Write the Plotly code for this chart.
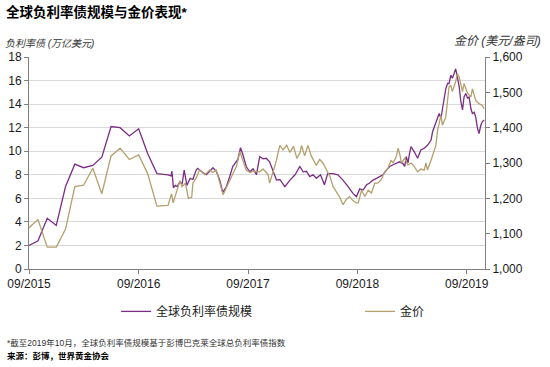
import plotly.graph_objects as go

# ---------------- data ----------------
# Global negative-yielding debt (USD trn)
debt_dates = [
    "2015-09-01", "2015-10-01", "2015-11-01", "2015-12-01", "2016-01-01", "2016-02-01",
    "2016-03-01", "2016-04-01", "2016-05-01", "2016-06-01", "2016-07-01", "2016-08-01",
    "2016-09-01", "2016-10-01", "2016-11-01", "2016-12-01",
    "2016-12-08", "2016-12-18", "2016-12-21", "2016-12-26", "2017-01-01", "2017-01-07",
    "2017-01-17", "2017-01-24", "2017-01-31", "2017-02-09", "2017-02-20", "2017-03-01",
    "2017-03-12", "2017-03-17", "2017-03-23", "2017-04-03", "2017-04-15", "2017-04-26",
    "2017-05-07", "2017-05-18", "2017-05-29", "2017-06-09", "2017-06-21", "2017-07-02",
    "2017-07-12", "2017-07-29", "2017-08-07", "2017-08-15", "2017-08-26", "2017-09-07",
    "2017-09-18", "2017-09-29", "2017-10-10", "2017-10-21", "2017-11-01", "2017-11-12",
    "2017-11-23", "2017-12-05", "2017-12-16", "2018-01-02", "2018-01-19", "2018-02-05",
    "2018-02-21", "2018-03-04", "2018-03-15", "2018-03-26", "2018-04-06", "2018-04-17",
    "2018-05-01", "2018-05-14", "2018-05-25", "2018-06-11", "2018-06-28", "2018-07-15",
    "2018-08-01", "2018-08-18", "2018-08-29", "2018-09-09", "2018-09-20", "2018-10-02",
    "2018-10-12", "2018-10-23", "2018-11-04", "2018-11-14", "2018-11-25", "2018-12-07",
    "2018-12-18", "2018-12-29", "2019-01-09", "2019-01-20", "2019-01-31", "2019-02-06",
    "2019-02-11", "2019-02-17", "2019-02-22", "2019-02-27", "2019-03-10", "2019-03-21",
    "2019-04-01", "2019-04-12", "2019-04-23", "2019-05-05", "2019-05-10", "2019-05-16",
    "2019-05-21", "2019-05-27", "2019-06-01", "2019-06-07", "2019-06-12", "2019-06-18",
    "2019-06-23", "2019-06-29", "2019-07-04", "2019-07-10", "2019-07-15", "2019-07-21",
    "2019-07-26", "2019-08-01", "2019-08-07", "2019-08-12", "2019-08-18", "2019-08-23",
    "2019-08-29", "2019-09-04", "2019-09-09", "2019-09-15", "2019-09-20", "2019-09-26",
    "2019-10-01", "2019-10-07", "2019-10-12", "2019-10-18", "2019-10-23", "2019-10-29",
]
debt_values = [
    2.0, 2.4, 4.3, 3.7, 7.0, 8.9,
    8.6, 8.8, 9.5, 12.1, 12.0, 11.3,
    11.9, 9.8, 8.1, 8.0,
    8.0, 7.9, 8.3, 6.9, 7.1, 7.0,
    7.4, 7.2, 8.4, 7.1, 7.7, 7.6,
    8.4, 8.55, 8.4, 8.2, 8.0, 8.3,
    8.6, 8.3, 7.6, 6.5, 7.0, 7.85,
    8.7, 9.3, 10.3, 9.7, 8.7, 8.25,
    8.5, 8.0, 9.55, 9.35, 9.4, 9.1,
    8.4, 7.55, 7.6, 7.0, 7.55, 8.0,
    8.7, 8.25, 8.3, 7.85, 8.0, 7.7,
    8.0, 7.15, 8.1, 8.1, 8.0, 7.55,
    7.0, 6.4, 6.15, 6.8, 6.7, 7.15,
    7.3, 7.55, 7.7, 7.85, 8.0, 8.4,
    8.7, 8.85, 8.95, 9.1, 8.95, 8.7,
    9.55, 9.0, 9.8, 10.4, 9.95, 9.4,
    10.1, 10.25, 10.5, 10.95, 11.65, 12.1,
    12.35, 12.9, 13.2, 12.8, 13.5, 14.3,
    15.3, 15.75, 15.75, 16.45, 16.2, 16.6,
    17.0, 16.3, 15.45, 14.3, 13.5, 14.6,
    14.9, 14.5, 14.6, 13.6, 13.2, 13.3,
    12.9, 11.95, 11.5, 12.2, 12.5, 12.65,
]

# Gold price (USD/oz)
gold_dates = [
    "2015-09-01", "2015-10-01", "2015-11-01", "2015-12-01", "2016-01-01", "2016-02-01",
    "2016-03-01", "2016-04-01", "2016-05-01", "2016-06-01", "2016-07-01", "2016-08-01",
    "2016-09-01", "2016-10-01", "2016-11-01", "2016-12-01",
    "2016-12-08", "2016-12-14", "2016-12-20", "2016-12-25", "2017-01-06", "2017-01-17",
    "2017-01-24", "2017-02-04", "2017-02-14", "2017-02-25", "2017-03-01", "2017-03-12",
    "2017-03-23", "2017-04-10", "2017-04-26", "2017-05-07", "2017-05-18", "2017-05-29",
    "2017-06-10", "2017-06-26", "2017-07-12", "2017-07-24", "2017-08-05", "2017-08-15",
    "2017-08-26", "2017-09-08", "2017-09-19", "2017-10-10", "2017-10-21", "2017-11-07",
    "2017-11-12", "2017-11-23", "2017-12-05", "2017-12-16", "2017-12-27", "2018-01-08",
    "2018-01-19", "2018-01-31", "2018-02-11", "2018-02-22", "2018-02-27", "2018-03-09",
    "2018-03-20", "2018-03-31", "2018-04-06", "2018-04-17", "2018-04-28", "2018-05-09",
    "2018-05-21", "2018-06-01", "2018-06-12", "2018-06-23", "2018-07-04", "2018-07-15",
    "2018-07-26", "2018-08-06", "2018-08-18", "2018-08-29", "2018-09-04", "2018-09-15",
    "2018-09-26", "2018-10-07", "2018-10-18", "2018-10-29", "2018-11-08", "2018-11-19",
    "2018-12-01", "2018-12-12", "2018-12-23", "2018-12-29", "2019-01-09", "2019-01-15",
    "2019-01-20", "2019-01-26", "2019-02-06", "2019-02-17", "2019-02-28", "2019-03-10",
    "2019-03-21", "2019-04-01", "2019-04-12", "2019-04-18", "2019-04-23", "2019-05-05",
    "2019-05-16", "2019-05-21", "2019-05-27", "2019-06-01", "2019-06-07", "2019-06-12",
    "2019-06-23", "2019-06-29", "2019-07-04", "2019-07-10", "2019-07-15", "2019-07-26",
    "2019-08-01", "2019-08-07", "2019-08-18", "2019-08-23", "2019-09-04", "2019-09-15",
    "2019-09-20", "2019-10-01", "2019-10-12", "2019-10-23", "2019-10-29",
]
gold_values = [
    1117, 1140, 1062, 1062, 1113, 1233,
    1237, 1285, 1213, 1320, 1342, 1310,
    1323, 1270, 1178, 1178,
    1180, 1197, 1213, 1187, 1217, 1250,
    1233, 1243, 1200, 1203, 1243, 1257,
    1280, 1267, 1280, 1273, 1280, 1247,
    1210, 1240, 1270, 1290, 1332, 1310,
    1280, 1273, 1277, 1275, 1283, 1267,
    1243, 1273, 1308, 1350, 1337, 1350,
    1330, 1347, 1313, 1330, 1350, 1320,
    1350, 1320, 1310, 1293, 1310, 1300,
    1280, 1263, 1233, 1218, 1203, 1182,
    1197, 1205, 1193, 1187, 1187, 1223,
    1205, 1223, 1215, 1243, 1243, 1252,
    1275, 1285, 1308, 1300, 1318, 1342,
    1327, 1300, 1313, 1295, 1300, 1290,
    1275, 1283, 1280, 1300, 1280, 1308,
    1337, 1350, 1393, 1412, 1435, 1407,
    1430, 1477, 1515, 1520, 1502, 1530,
    1553, 1543, 1502, 1525, 1497, 1487,
    1510, 1477, 1468, 1463, 1453,
]

tick_dates = ["2015-09-01", "2016-09-01", "2017-09-01", "2018-09-01", "2019-09-01"]
tick_labels = ["09/2015", "09/2016", "09/2017", "09/2018", "09/2019"]

# ---------------- figure ----------------
FONT = "Liberation Sans, Arial, Noto Sans CJK SC, sans-serif"
PURPLE = "#7B2D84"
GOLD = "#B3A06E"

fig = go.Figure()
fig.add_trace(go.Scatter(
    x=debt_dates, y=debt_values, mode="lines", name="全球负利率债规模",
    line=dict(color=PURPLE, width=1.3), yaxis="y", legend="legend",
))
fig.add_trace(go.Scatter(
    x=gold_dates, y=gold_values, mode="lines", name="金价",
    line=dict(color=GOLD, width=1.3), yaxis="y2", legend="legend2",
))

axis_common = dict(
    showline=True, linecolor="#808080", linewidth=1,
    ticks="outside", ticklen=4, tickcolor="#808080", automargin=False,
    tickfont=dict(size=12, color="#1a1a1a", family=FONT),
)

legend_common = dict(
    orientation="h", y=-0.2, yanchor="middle", xanchor="left",
    font=dict(size=12, family=FONT, color="#1a1a1a"),
    bgcolor="rgba(0,0,0,0)", borderwidth=0,
)

fig.update_layout(
    width=550, height=367,
    margin=dict(l=29, r=65, t=57, b=98, autoexpand=False),
    paper_bgcolor="white", plot_bgcolor="white",
    font=dict(family=FONT, color="#1a1a1a"),
    xaxis=dict(
        type="date", range=["2015-09-01", "2019-11-01"],
        tickvals=tick_dates, ticktext=tick_labels,
        showgrid=False, zeroline=False, **axis_common,
    ),
    yaxis=dict(
        range=[0, 18], dtick=2, showgrid=True, gridcolor="#d9d9d9", gridwidth=1,
        zeroline=False, **axis_common,
    ),
    yaxis2=dict(
        range=[1000, 1600], dtick=100, tickformat=",", overlaying="y", side="right",
        showgrid=False, zeroline=False, **axis_common,
    ),
    showlegend=True,
    legend=dict(x=0.191, **legend_common),
    legend2=dict(x=0.726, **legend_common),
)

annotations = [
    dict(text="<b>全球负利率债规模与金价表现*</b>", x=-0.055, y=1.212,
         xanchor="left", yanchor="middle", font=dict(size=13.5, color="#000000")),
    dict(text="<i>负利率债 (万亿美元)</i>", x=-0.058, y=1.064,
         xanchor="left", yanchor="middle", font=dict(size=10, color="#333333")),
    dict(text="<i>金价 (美元/盎司)</i>", x=1.128, y=1.075,
         xanchor="right", yanchor="middle", font=dict(size=12, color="#333333")),
    dict(text="*截至2019年10月，全球负利率债规模基于彭博巴克莱全球总负利率债指数", x=-0.053, y=-0.349,
         xanchor="left", yanchor="middle", font=dict(size=8.5, color="#333333")),
    dict(text="<b>来源：彭博，世界黄金协会</b>", x=-0.053, y=-0.41,
         xanchor="left", yanchor="middle", font=dict(size=8.5, color="#000000")),
]
for a in annotations:
    a.update(xref="paper", yref="paper", showarrow=False)
fig.update_layout(annotations=annotations)

# remove the browser's default 8px page margin so the figure sits at the window origin
fig.write_html("out.html", config={"displayModeBar": False},
               post_script="document.body.style.margin='0';")
